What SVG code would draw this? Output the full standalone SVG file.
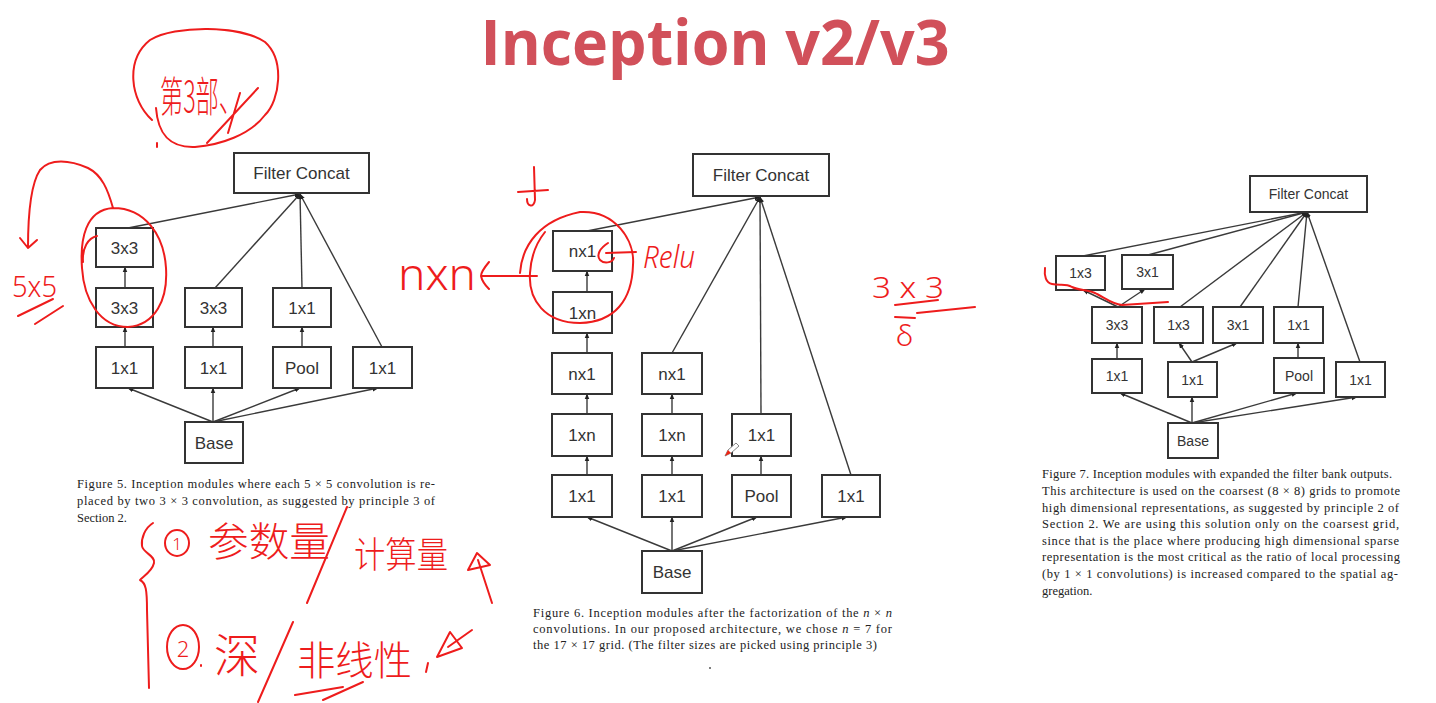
<svg xmlns="http://www.w3.org/2000/svg" width="1436" height="703" viewBox="0 0 1436 703">
<style>
.b{fill:#fff;stroke:#333;stroke-width:2}
.t{font-family:"Liberation Sans",Arial,sans-serif;font-size:17px;fill:#333;text-anchor:middle}
.t7{font-family:"Liberation Sans",Arial,sans-serif;font-size:14px;fill:#333;text-anchor:middle}
.c{stroke:#3a3a3a;stroke-width:1.4;fill:none;marker-end:url(#ah)}
.cap{font-family:"Liberation Serif","Times New Roman",serif;font-size:12.5px;fill:#222}
.r{stroke:#ee1c1c;stroke-width:2;fill:none;stroke-linecap:round;stroke-linejoin:round}
.rt{fill:#ee1c1c;font-family:"Noto Sans","Liberation Sans",sans-serif;font-weight:300}
.rc{fill:#ee1c1c;font-family:"Noto Sans CJK SC",sans-serif;font-weight:200}
</style>
<defs>
<marker id="ah" viewBox="0 0 10 10" refX="9" refY="5" markerWidth="6" markerHeight="6" markerUnits="userSpaceOnUse" orient="auto">
<path d="M0,1 L10,5 L0,9 z" fill="#222"/>
</marker>
</defs>
<rect width="1436" height="703" fill="#fff"/>
<text x="715" y="65" text-anchor="middle" font-family="Open Sans, sans-serif" font-weight="bold" font-size="63" fill="#d1505a" textLength="469" lengthAdjust="spacingAndGlyphs">Inception v2/v3</text>

<g id="connectors">
<path class="c" d="M213,422 L128,388"/>
<path class="c" d="M213,422 L213,388"/>
<path class="c" d="M213,422 L300,388"/>
<path class="c" d="M213,422 L378,388"/>
<path class="c" d="M125,347 L125,327"/>
<path class="c" d="M125,288 L125,267"/>
<path class="c" d="M213,347 L213,327"/>
<path class="c" d="M302,347 L302,327"/>
<path class="c" d="M128,228 L300,194"/>
<path class="c" d="M215,288 L300,194"/>
<path class="c" d="M302,288 L300,194"/>
<path class="c" d="M382,347 L300,194"/>

<path class="c" d="M672,551 L587,517"/>
<path class="c" d="M672,551 L672,517"/>
<path class="c" d="M672,551 L757,517"/>
<path class="c" d="M672,551 L847,517"/>
<path class="c" d="M587,475 L587,456"/>
<path class="c" d="M587,414 L587,394"/>
<path class="c" d="M587,353 L587,333"/>
<path class="c" d="M587,292 L587,271"/>
<path class="c" d="M672,475 L672,456"/>
<path class="c" d="M672,414 L672,394"/>
<path class="c" d="M761,475 L761,456"/>
<path class="c" d="M587,231 L760,197"/>
<path class="c" d="M672,353 L760,197"/>
<path class="c" d="M761,414 L760,197"/>
<path class="c" d="M851,475 L760,197"/>

<path class="c" d="M1192,423 L1120,393"/>
<path class="c" d="M1192,423 L1192,397"/>
<path class="c" d="M1192,423 L1297,393"/>
<path class="c" d="M1192,423 L1357,397"/>
<path class="c" d="M1117,359 L1117,343"/>
<path class="c" d="M1298,358 L1298,343"/>
<path class="c" d="M1192,362 L1179,343"/>
<path class="c" d="M1192,362 L1237,343"/>
<path class="c" d="M1118,307 L1083,290"/>
<path class="c" d="M1118,307 L1145,289"/>
<path class="c" d="M1083,256 L1307,212"/>
<path class="c" d="M1148,255 L1307,212"/>
<path class="c" d="M1180,307 L1307,212"/>
<path class="c" d="M1240,307 L1307,212"/>
<path class="c" d="M1298,307 L1307,212"/>
<path class="c" d="M1360,362 L1307,212"/>
</g>

<g id="f5_concat"><rect class="b" x="234" y="153" width="135" height="40"/><text class="t" x="301.5" y="179">Filter Concat</text></g>
<g id="f5_a3"><rect class="b" x="96" y="228" width="57" height="39"/><text class="t" x="124.5" y="253.5">3x3</text></g>
<g id="f5_a2"><rect class="b" x="96" y="288" width="57" height="39"/><text class="t" x="124.5" y="313.5">3x3</text></g>
<g id="f5_a1"><rect class="b" x="96" y="347" width="57" height="41"/><text class="t" x="124.5" y="373.5">1x1</text></g>
<g id="f5_b2"><rect class="b" x="185" y="288" width="57" height="39"/><text class="t" x="213.5" y="313.5">3x3</text></g>
<g id="f5_b1"><rect class="b" x="185" y="347" width="57" height="41"/><text class="t" x="213.5" y="373.5">1x1</text></g>
<g id="f5_c2"><rect class="b" x="273" y="288" width="58" height="39"/><text class="t" x="302" y="313.5">1x1</text></g>
<g id="f5_c1"><rect class="b" x="273" y="347" width="58" height="41"/><text class="t" x="302" y="373.5">Pool</text></g>
<g id="f5_d1"><rect class="b" x="353" y="347" width="59" height="41"/><text class="t" x="382.5" y="373.5">1x1</text></g>
<g id="f5_base"><rect class="b" x="185" y="422" width="58" height="41"/><text class="t" x="214" y="448.5">Base</text></g>

<g id="f5_caption">
<text class="cap" x="77" y="488" textLength="358" lengthAdjust="spacing">Figure 5. Inception modules where each 5 × 5 convolution is re-</text>
<text class="cap" x="77" y="505" textLength="358" lengthAdjust="spacing">placed by two 3 × 3 convolution, as suggested by principle 3 of</text>
<text class="cap" x="77" y="522">Section 2.</text>
</g>

<g id="f6_concat"><rect class="b" x="693" y="154" width="136" height="42"/><text class="t" x="761" y="181">Filter Concat</text></g>
<g id="f6_a5"><rect class="b" x="553" y="231" width="59" height="40"/><text class="t" x="582.5" y="257">nx1</text></g>
<g id="f6_a4"><rect class="b" x="553" y="292" width="59" height="41"/><text class="t" x="582.5" y="318.5">1xn</text></g>
<g id="f6_a3"><rect class="b" x="552" y="353" width="60" height="41"/><text class="t" x="582" y="379.5">nx1</text></g>
<g id="f6_a2"><rect class="b" x="552" y="414" width="60" height="42"/><text class="t" x="582" y="441">1xn</text></g>
<g id="f6_a1"><rect class="b" x="552" y="475" width="60" height="42"/><text class="t" x="582" y="502">1x1</text></g>
<g id="f6_b3"><rect class="b" x="642" y="353" width="60" height="41"/><text class="t" x="672" y="379.5">nx1</text></g>
<g id="f6_b2"><rect class="b" x="642" y="414" width="60" height="42"/><text class="t" x="672" y="441">1xn</text></g>
<g id="f6_b1"><rect class="b" x="642" y="475" width="60" height="42"/><text class="t" x="672" y="502">1x1</text></g>
<g id="f6_c2"><rect class="b" x="732" y="414" width="59" height="42"/><text class="t" x="761.5" y="441">1x1</text></g>
<g id="f6_c1"><rect class="b" x="732" y="475" width="59" height="42"/><text class="t" x="761.5" y="502">Pool</text></g>
<g id="f6_d1"><rect class="b" x="822" y="475" width="58" height="42"/><text class="t" x="851" y="502">1x1</text></g>
<g id="f6_base"><rect class="b" x="642" y="551" width="60" height="42"/><text class="t" x="672" y="578">Base</text></g>

<g id="f6_caption">
<text class="cap" x="533" y="617" textLength="359" lengthAdjust="spacing">Figure 6. Inception modules after the factorization of the <tspan font-style="italic">n</tspan> × <tspan font-style="italic">n</tspan></text>
<text class="cap" x="533" y="633" textLength="359" lengthAdjust="spacing">convolutions. In our proposed architecture, we chose <tspan font-style="italic">n</tspan> = 7 for</text>
<text class="cap" x="533" y="649" textLength="344" lengthAdjust="spacing">the 17 × 17 grid. (The filter sizes are picked using principle 3)</text>
<circle cx="710" cy="668" r="1" fill="#555"/>
</g>

<g id="f7_concat"><rect class="b" x="1250" y="176" width="117" height="36"/><text class="t7" x="1308.5" y="199" font-size="15">Filter Concat</text></g>
<g id="f7_t1"><rect class="b" x="1056" y="256" width="49" height="34"/><text class="t7" x="1080.5" y="278">1x3</text></g>
<g id="f7_t2"><rect class="b" x="1122" y="255" width="51" height="34"/><text class="t7" x="1147.5" y="277">3x1</text></g>
<g id="f7_m1"><rect class="b" x="1092" y="307" width="50" height="36"/><text class="t7" x="1117" y="330">3x3</text></g>
<g id="f7_m2"><rect class="b" x="1154" y="307" width="49" height="36"/><text class="t7" x="1178.5" y="330">1x3</text></g>
<g id="f7_m3"><rect class="b" x="1213" y="307" width="50" height="36"/><text class="t7" x="1238" y="330">3x1</text></g>
<g id="f7_m4"><rect class="b" x="1274" y="307" width="49" height="36"/><text class="t7" x="1298.5" y="330">1x1</text></g>
<g id="f7_r1"><rect class="b" x="1092" y="359" width="50" height="34"/><text class="t7" x="1117" y="381">1x1</text></g>
<g id="f7_r2"><rect class="b" x="1168" y="362" width="49" height="35"/><text class="t7" x="1192.5" y="384.5">1x1</text></g>
<g id="f7_r3"><rect class="b" x="1274" y="358" width="50" height="35"/><text class="t7" x="1299" y="380.5">Pool</text></g>
<g id="f7_r4"><rect class="b" x="1336" y="362" width="49" height="35"/><text class="t7" x="1360.5" y="384.5">1x1</text></g>
<g id="f7_base"><rect class="b" x="1168" y="423" width="50" height="35"/><text class="t7" x="1193" y="445.5">Base</text></g>

<g id="f7_caption">
<text class="cap" x="1042" y="478" textLength="350" lengthAdjust="spacing">Figure 7. Inception modules with expanded the filter bank outputs.</text>
<text class="cap" x="1042" y="495" textLength="358" lengthAdjust="spacing">This architecture is used on the coarsest (8 × 8) grids to promote</text>
<text class="cap" x="1042" y="512" textLength="357" lengthAdjust="spacing">high dimensional representations, as suggested by principle 2 of</text>
<text class="cap" x="1042" y="528" textLength="357" lengthAdjust="spacing">Section 2.  We are using this solution only on the coarsest grid,</text>
<text class="cap" x="1042" y="545" textLength="357" lengthAdjust="spacing">since that is the place where producing high dimensional sparse</text>
<text class="cap" x="1042" y="561" textLength="358" lengthAdjust="spacing">representation is the most critical as the ratio of local processing</text>
<text class="cap" x="1042" y="578" textLength="356" lengthAdjust="spacing">(by 1 × 1 convolutions) is increased compared to the spatial ag-</text>
<text class="cap" x="1042" y="595">gregation.</text>
</g>

<g id="annotations">
<path class="r" d="M152,120 C130,100 125,60 150,40 C175,25 240,25 265,42 C285,60 280,100 265,115 C250,135 220,145 195,147 C170,148 158,135 156,108"/>
<path class="r" d="M207,143 L258,88 M228,133 L240,93 M157,143 L157,147"/>
<text class="rc" x="160" y="112" font-size="42" textLength="82" lengthAdjust="spacingAndGlyphs">第3部、</text>

<path class="r" d="M113,208 C108,190 102,175 88,168 C70,160 50,158 40,170 C30,185 28,215 28,248 M20,238 L28,248 L37,240"/>
<text class="rt" x="12" y="297" font-size="30" textLength="45" lengthAdjust="spacingAndGlyphs">5x5</text>
<path class="r" d="M18,316 L53,299 M35,324 L63,306"/>
<path class="r" d="M113,208 C85,210 80,240 82,268 C84,300 100,327 128,327 C155,325 168,300 166,268 C164,235 145,208 113,208 M97,236 C88,238 82,248 83,262"/>

<path class="r" d="M520,273 C522,245 540,220 580,212 C615,210 635,240 633,265 C632,300 615,322 580,323 C545,323 528,300 530,273 C531,255 537,242 545,232"/>
<path class="r" d="M537,276 L482,276 M489,262 C484,268 481,272 481,276 C482,281 485,285 489,289"/>
<text class="rt" x="398" y="290" font-size="44" textLength="78" lengthAdjust="spacingAndGlyphs">nxn</text>
<path class="r" d="M636,252 L606,253 M608,243 C600,248 596,255 600,260 C604,264 612,263 614,258"/>
<text class="rt" x="643" y="268" font-size="32" font-style="italic" textLength="52" lengthAdjust="spacingAndGlyphs">Relu</text>
<path class="r" d="M534,167 L535,200 C534,208 527,207 527,199 M518,192 L548,190"/>

<text class="rt" x="872" y="298" font-size="30" textLength="72" lengthAdjust="spacingAndGlyphs">3 x 3</text>
<path class="r" d="M895,305 L938,300 M917,313 L975,307 M895,317 L915,318"/>
<text class="rt" x="896" y="346" font-size="30">δ</text>

<path class="r" d="M1045,268 C1044,276 1046,283 1052,284 C1060,286 1065,283 1072,287 C1080,291 1088,289 1097,294 C1105,298 1112,304 1122,305 L1168,302"/>

<path class="r" d="M153,523 C145,528 141,538 142,546 C143,553 156,556 154,563 C152,572 142,577 140,580 C146,583 147,590 147,610 L149,688"/>
<ellipse class="r" cx="177" cy="543" rx="12" ry="13"/>
<text class="rt" x="177" y="550" font-size="17" text-anchor="middle">1</text>
<text class="rc" x="208" y="556" font-size="40" textLength="122" lengthAdjust="spacingAndGlyphs">参数量</text>
<path class="r" d="M347,507 L307,603"/>
<text class="rc" x="354" y="568" font-size="36" textLength="94" lengthAdjust="spacingAndGlyphs">计算量</text>
<path class="r" d="M478,560 L492,603 M477,553 L468,570 L490,565 Z"/>

<ellipse class="r" cx="183" cy="647" rx="16" ry="22"/>
<text class="rt" x="183" y="657" font-size="22" text-anchor="middle">2</text>
<path class="r" d="M201,665 L201,666"/>
<text class="rc" x="214" y="672" font-size="46">深</text>
<path class="r" d="M293,622 L258,702"/>
<text class="rc" x="297" y="675" font-size="40" textLength="115" lengthAdjust="spacingAndGlyphs">非线性</text>
<path class="r" d="M295,695 L343,687 M323,700 L363,682 M428,663 L426,672"/>
<path class="r" d="M437,657 L450,632 L462,648 Z M448,647 L472,630"/>

<path d="M725,456 L728,450 L736,443 L739,446 L731,453 Z" fill="#fff" stroke="#888" stroke-width="1"/>
<path d="M725,456 L728,450 L731,453 Z" fill="#e21"/>
</g>
</svg>
